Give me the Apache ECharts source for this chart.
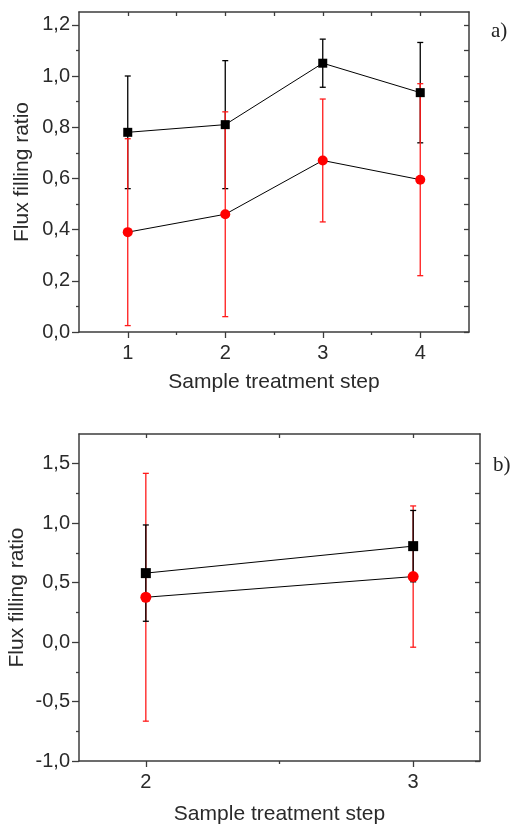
<!DOCTYPE html>
<html><head><meta charset="utf-8">
<script src="https://cdn.jsdelivr.net/npm/echarts@6/dist/echarts.min.js"></script>
<style>html,body{margin:0;padding:0;background:#fff}#c{width:518px;height:824px}</style>
</head><body><div id="c"></div>
<script>
// ---- data (panel a) ----
const stepsA = [1, 2, 3, 4];
const blackA = [0.78, 0.81, 1.05, 0.935];
const blackAErr = [0.22, 0.25, 0.094, 0.196];
const redA = [0.39, 0.46, 0.67, 0.595];
const redAErr = [0.365, 0.40, 0.24, 0.375];
// ---- data (panel b) ----
const stepsB = [2, 3];
const blackB = [0.58, 0.807];
const blackBErr = [0.405, 0.30];
const redB = [0.377, 0.551];
const redBErr = [1.042, 0.594];
// ---- ticks ----
const xTicksA = [1, 2, 3, 4];
const xMinorA = [1.5, 2.5, 3.5];
const yTicksA = [0, 0.2, 0.4, 0.6, 0.8, 1.0, 1.2];
const yMinorA = [0.1, 0.3, 0.5, 0.7, 0.9, 1.1];
const xTicksB = [2, 3];
const xMinorB = [2.5];
const yTicksB = [-1.0, -0.5, 0, 0.5, 1.0, 1.5];
const yMinorB = [-0.75, -0.25, 0.25, 0.75, 1.25];

const AX = '#3c3c3c';
const TXT = '#2a2a2a';
const FONT = '"Liberation Sans", Arial, sans-serif';
const fmt = v => v.toFixed(1).replace('.', ',');

function xAxes(g, min, max, majors, minors, name, gap) {
  return [
    { gridIndex: g, type: 'value', min, max, position: 'bottom',
      name, nameLocation: 'middle', nameGap: gap, nameMoveOverlap: false,
      nameTextStyle: { fontSize: 21, color: TXT, fontFamily: FONT },
      axisLine: { show: true, onZero: false, lineStyle: { color: AX, width: 1.5 } },
      axisTick: { show: true, inside: false, length: 6, customValues: majors, lineStyle: { color: AX, width: 1.3 } },
      axisLabel: { show: true, customValues: majors, formatter: v => String(v), fontSize: 20, color: TXT, fontFamily: FONT, margin: 11 },
      splitLine: { show: false } },
    { gridIndex: g, type: 'value', min, max, position: 'bottom',
      axisLine: { show: false, onZero: false },
      axisTick: { show: true, inside: false, length: 3, customValues: minors, lineStyle: { color: AX, width: 1.3 } },
      axisLabel: { show: false }, splitLine: { show: false } },
    { gridIndex: g, type: 'value', min, max, position: 'top',
      axisLine: { show: true, onZero: false, lineStyle: { color: AX, width: 1.5 } },
      axisTick: { show: true, inside: true, length: 4, customValues: majors.concat(minors), lineStyle: { color: AX, width: 1.3 } },
      axisLabel: { show: false }, splitLine: { show: false } }
  ];
}
function yAxes(g, min, max, majors, minors, name, gap) {
  return [
    { gridIndex: g, type: 'value', min, max, position: 'left',
      name, nameLocation: 'middle', nameGap: gap, nameMoveOverlap: false,
      nameTextStyle: { fontSize: 21, color: TXT, fontFamily: FONT },
      axisLine: { show: true, onZero: false, lineStyle: { color: AX, width: 1.5 } },
      axisTick: { show: true, inside: false, length: 7, customValues: majors, lineStyle: { color: AX, width: 1.3 } },
      axisLabel: { show: true, customValues: majors, formatter: fmt, fontSize: 20, color: TXT, fontFamily: FONT, margin: 9 },
      splitLine: { show: false } },
    { gridIndex: g, type: 'value', min, max, position: 'left',
      axisLine: { show: false, onZero: false },
      axisTick: { show: true, inside: false, length: 3, customValues: minors, lineStyle: { color: AX, width: 1.3 } },
      axisLabel: { show: false }, splitLine: { show: false } },
    { gridIndex: g, type: 'value', min, max, position: 'right',
      axisLine: { show: true, onZero: false, lineStyle: { color: AX, width: 1.5 } },
      axisTick: { show: true, inside: true, length: 5, customValues: majors.concat(minors), lineStyle: { color: AX, width: 1.3 } },
      axisLabel: { show: false }, splitLine: { show: false } }
  ];
}

function errSeries(xi, yi, xs, ys, errs, color, z) {
  return {
    type: 'custom', xAxisIndex: xi, yAxisIndex: yi, z,
    data: xs.map((x, i) => [x, ys[i] - errs[i], ys[i] + errs[i]]),
    encode: { x: 0, y: [1, 2] },
    renderItem: (params, api) => {
      const x = api.value(0);
      const lo = api.coord([x, api.value(1)]);
      const hi = api.coord([x, api.value(2)]);
      const w = 3;
      const st = { stroke: color, lineWidth: 1.3 };
      return { type: 'group', children: [
        { type: 'line', shape: { x1: lo[0], y1: lo[1], x2: hi[0], y2: hi[1] }, style: st },
        { type: 'line', shape: { x1: lo[0] - w, y1: lo[1], x2: lo[0] + w, y2: lo[1] }, style: st },
        { type: 'line', shape: { x1: hi[0] - w, y1: hi[1], x2: hi[0] + w, y2: hi[1] }, style: st }
      ]};
    }
  };
}
function lineSeries(xi, yi, xs, ys, symbol, size, color) {
  return {
    type: 'line', xAxisIndex: xi, yAxisIndex: yi, z: 5,
    data: xs.map((x, i) => [x, ys[i]]),
    symbol, symbolSize: size, showSymbol: true,
    lineStyle: { color: '#000', width: 1 },
    itemStyle: { color, borderWidth: 0 },
    animation: false
  };
}

const chart = echarts.init(document.getElementById('c'), null, { renderer: 'canvas' });
chart.setOption({
  animation: false,
  backgroundColor: '#fff',
  title: [
    { text: 'a)', left: 491, top: 21, padding: 0, textStyle: { fontFamily: '"Liberation Serif", "Times New Roman", serif', fontSize: 21, fontWeight: 'normal', color: '#222' } },
    { text: 'b)', left: 493, top: 455, padding: 0, textStyle: { fontFamily: '"Liberation Serif", "Times New Roman", serif', fontSize: 21, fontWeight: 'normal', color: '#222' } }
  ],
  grid: [
    { left: 79, top: 12, width: 390, height: 320, containLabel: false, outerBoundsMode: 'none' },
    { left: 79, top: 434, width: 401, height: 327, containLabel: false, outerBoundsMode: 'none' }
  ],
  xAxis: xAxes(0, 0.5, 4.5, xTicksA, xMinorA, 'Sample treatment step', 40)
    .concat(xAxes(1, 1.75, 3.25, xTicksB, xMinorB, 'Sample treatment step', 43)),
  yAxis: yAxes(0, 0, 1.25, yTicksA, yMinorA, 'Flux filling ratio', 46)
    .concat(yAxes(1, -1.0, 1.75, yTicksB, yMinorB, 'Flux filling ratio', 51)),
  series: [
    errSeries(0, 0, stepsA, blackA, blackAErr, '#000000', 2),
    errSeries(0, 0, stepsA, redA, redAErr, '#ff1a1a', 3),
    lineSeries(0, 0, stepsA, blackA, 'rect', 9, '#000000'),
    lineSeries(0, 0, stepsA, redA, 'circle', 10, '#ff0000'),
    errSeries(3, 3, stepsB, redB, redBErr, '#ff1a1a', 2),
    errSeries(3, 3, stepsB, blackB, blackBErr, '#000000', 3),
    lineSeries(3, 3, stepsB, blackB, 'rect', 10, '#000000'),
    lineSeries(3, 3, stepsB, redB, 'circle', 11, '#ff0000')
  ]
});
</script>
</body></html>
